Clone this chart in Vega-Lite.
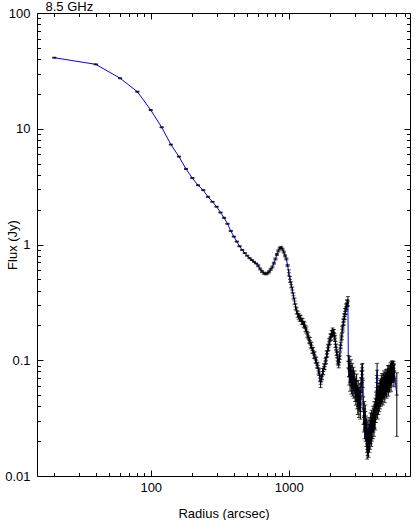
{
  "$schema": "https://vega.github.io/schema/vega-lite/v6.json",
  "width": 373,
  "height": 463,
  "autosize": {"type": "none"},
  "padding": {"left": 37, "top": 13, "right": 5, "bottom": 44},
  "background": "white",
  "config": {
    "view": {"stroke": "black", "strokeWidth": 1},
    "axis": {"grid": false, "domain": false, "tickColor": "black", "tickWidth": 1, "labelColor": "black", "labelFont": "Liberation Sans", "labelFontSize": 13, "titleFont": "Liberation Sans", "titleFontSize": 13, "titleFontWeight": "normal", "titleColor": "black", "labelOverlap": false, "labelFlush": false}
  },
  "data": {"values": [
    {"r":20,"f":41.1,"e":0.41},{"r":40,"f":36,"e":0.36},{"r":60,"f":27.3,"e":0.27},{"r":80,"f":20.9,"e":0.21},{"r":100,"f":14.5,"e":0.15},
    {"r":120,"f":10.3,"e":0.1},{"r":140,"f":7.3,"e":0.07},{"r":160,"f":5.75,"e":0.06},{"r":180,"f":4.5,"e":0.05},{"r":200,"f":3.75,"e":0.04},
    {"r":220,"f":3.25,"e":0.03},{"r":240,"f":2.95,"e":0.03},{"r":260,"f":2.58,"e":0.03},{"r":280,"f":2.34,"e":0.02},{"r":300,"f":2.12,"e":0.02},
    {"r":320,"f":1.89,"e":0.02},{"r":340,"f":1.7,"e":0.02},{"r":360,"f":1.51,"e":0.015},{"r":380,"f":1.31,"e":0.013},{"r":400,"f":1.17,"e":0.012},
    {"r":420,"f":1.06,"e":0.011},{"r":440,"f":0.965,"e":0.01},{"r":460,"f":0.895,"e":0.009},{"r":480,"f":0.843,"e":0.008},{"r":500,"f":0.8,"e":0.008},
    {"r":520,"f":0.762,"e":0.008},{"r":540,"f":0.734,"e":0.007},{"r":560,"f":0.708,"e":0.007},{"r":580,"f":0.685,"e":0.007},{"r":600,"f":0.655,"e":0.013},
    {"r":620,"f":0.615,"e":0.012},{"r":640,"f":0.585,"e":0.012},{"r":660,"f":0.565,"e":0.011},{"r":680,"f":0.557,"e":0.011},{"r":700,"f":0.565,"e":0.011},
    {"r":720,"f":0.582,"e":0.012},{"r":740,"f":0.61,"e":0.012},{"r":760,"f":0.64,"e":0.013},{"r":780,"f":0.69,"e":0.014},{"r":800,"f":0.75,"e":0.015},
    {"r":820,"f":0.82,"e":0.016},{"r":840,"f":0.88,"e":0.018},{"r":860,"f":0.93,"e":0.019},{"r":880,"f":0.945,"e":0.019},{"r":900,"f":0.91,"e":0.018},
    {"r":920,"f":0.86,"e":0.017},{"r":940,"f":0.8,"e":0.016},{"r":960,"f":0.75,"e":0.015},{"r":980,"f":0.66,"e":0.013},
    {"r":1000,"f":0.57,"e":0.034},{"r":1020,"f":0.5,"e":0.03},{"r":1040,"f":0.45,"e":0.027},{"r":1060,"f":0.405,"e":0.024},{"r":1080,"f":0.36,"e":0.022},
    {"r":1100,"f":0.325,"e":0.02},{"r":1120,"f":0.29,"e":0.017},{"r":1140,"f":0.268,"e":0.016},{"r":1160,"f":0.25,"e":0.015},{"r":1180,"f":0.24,"e":0.014},
    {"r":1200,"f":0.232,"e":0.014},{"r":1220,"f":0.23,"e":0.014},{"r":1240,"f":0.218,"e":0.013},{"r":1260,"f":0.216,"e":0.013},{"r":1280,"f":0.205,"e":0.012},
    {"r":1300,"f":0.202,"e":0.012},{"r":1320,"f":0.188,"e":0.011},{"r":1340,"f":0.183,"e":0.011},{"r":1360,"f":0.168,"e":0.01},{"r":1380,"f":0.163,"e":0.01},
    {"r":1400,"f":0.15,"e":0.009},{"r":1420,"f":0.148,"e":0.009},{"r":1440,"f":0.136,"e":0.008},{"r":1460,"f":0.134,"e":0.008},{"r":1480,"f":0.122,"e":0.007},
    {"r":1500,"f":0.122,"e":0.007},{"r":1520,"f":0.111,"e":0.007},{"r":1540,"f":0.111,"e":0.007},{"r":1560,"f":0.101,"e":0.006},{"r":1580,"f":0.1,"e":0.006},
    {"r":1600,"f":0.091,"e":0.005},{"r":1620,"f":0.09,"e":0.005},{"r":1640,"f":0.081,"e":0.005},{"r":1660,"f":0.079,"e":0.005},{"r":1680,"f":0.07,"e":0.004},
    {"r":1700,"f":0.062,"e":0.004},{"r":1720,"f":0.069,"e":0.004},{"r":1740,"f":0.072,"e":0.004},{"r":1760,"f":0.08,"e":0.005},{"r":1780,"f":0.08,"e":0.005},
    {"r":1800,"f":0.088,"e":0.005},{"r":1820,"f":0.088,"e":0.005},{"r":1840,"f":0.098,"e":0.006},{"r":1860,"f":0.1,"e":0.006},{"r":1880,"f":0.113,"e":0.007},
    {"r":1900,"f":0.114,"e":0.007},{"r":1920,"f":0.128,"e":0.008},{"r":1940,"f":0.13,"e":0.008},{"r":1960,"f":0.144,"e":0.009},{"r":1980,"f":0.146,"e":0.009},
    {"r":2000,"f":0.159,"e":0.01},{"r":2020,"f":0.158,"e":0.009},{"r":2040,"f":0.171,"e":0.01},{"r":2060,"f":0.169,"e":0.01},{"r":2080,"f":0.179,"e":0.011},
    {"r":2100,"f":0.174,"e":0.01},{"r":2120,"f":0.174,"e":0.01},{"r":2140,"f":0.16,"e":0.01},{"r":2160,"f":0.155,"e":0.009},{"r":2180,"f":0.137,"e":0.008},
    {"r":2200,"f":0.13,"e":0.008},{"r":2220,"f":0.117,"e":0.007},{"r":2240,"f":0.112,"e":0.007},{"r":2260,"f":0.099,"e":0.006},{"r":2280,"f":0.097,"e":0.006},
    {"r":2300,"f":0.091,"e":0.005},{"r":2320,"f":0.102,"e":0.006},{"r":2340,"f":0.109,"e":0.007},{"r":2360,"f":0.128,"e":0.008},{"r":2380,"f":0.134,"e":0.008},
    {"r":2400,"f":0.156,"e":0.009},{"r":2420,"f":0.161,"e":0.01},{"r":2440,"f":0.185,"e":0.011},{"r":2460,"f":0.19,"e":0.011},{"r":2480,"f":0.213,"e":0.013},
    {"r":2500,"f":0.215,"e":0.013},{"r":2520,"f":0.238,"e":0.014},{"r":2540,"f":0.24,"e":0.014},{"r":2560,"f":0.264,"e":0.016},{"r":2580,"f":0.265,"e":0.016},
    {"r":2600,"f":0.289,"e":0.017},{"r":2620,"f":0.29,"e":0.017},{"r":2640,"f":0.312,"e":0.019},{"r":2660,"f":0.313,"e":0.019},{"r":2680,"f":0.325,"e":0.03},
    {"r":2700,"f":0.098,"e":0.012},
    {"r":2720,"f":0.085,"e":0.013},{"r":2740,"f":0.072,"e":0.011},{"r":2760,"f":0.094,"e":0.014},{"r":2780,"f":0.064,"e":0.01},{"r":2800,"f":0.078,"e":0.012},
    {"r":2820,"f":0.088,"e":0.013},{"r":2840,"f":0.06,"e":0.009},{"r":2860,"f":0.071,"e":0.011},{"r":2880,"f":0.082,"e":0.012},{"r":2900,"f":0.058,"e":0.009},
    {"r":2920,"f":0.067,"e":0.01},{"r":2940,"f":0.076,"e":0.011},{"r":2960,"f":0.055,"e":0.008},{"r":2980,"f":0.063,"e":0.009},{"r":3000,"f":0.07,"e":0.011},
    {"r":3020,"f":0.052,"e":0.008},{"r":3040,"f":0.061,"e":0.009},{"r":3060,"f":0.048,"e":0.007},{"r":3080,"f":0.057,"e":0.009},{"r":3100,"f":0.066,"e":0.01},
    {"r":3120,"f":0.045,"e":0.007},{"r":3140,"f":0.053,"e":0.008},{"r":3160,"f":0.04,"e":0.006},{"r":3180,"f":0.058,"e":0.009},{"r":3200,"f":0.047,"e":0.007},
    {"r":3220,"f":0.038,"e":0.006},{"r":3240,"f":0.05,"e":0.008},{"r":3260,"f":0.043,"e":0.006},{"r":3280,"f":0.055,"e":0.008},{"r":3300,"f":0.036,"e":0.005},
    {"r":3320,"f":0.046,"e":0.007},{"r":3340,"f":0.062,"e":0.009},{"r":3360,"f":0.07,"e":0.011},{"r":3380,"f":0.08,"e":0.012},{"r":3400,"f":0.075,"e":0.011},
    {"r":3420,"f":0.082,"e":0.012},{"r":3440,"f":0.058,"e":0.009},{"r":3460,"f":0.042,"e":0.006},{"r":3480,"f":0.033,"e":0.005},{"r":3500,"f":0.028,"e":0.004},
    {"r":3520,"f":0.038,"e":0.006},{"r":3540,"f":0.025,"e":0.004},{"r":3560,"f":0.031,"e":0.005},{"r":3580,"f":0.036,"e":0.005},{"r":3600,"f":0.024,"e":0.004},
    {"r":3620,"f":0.029,"e":0.004},{"r":3640,"f":0.021,"e":0.003},{"r":3660,"f":0.027,"e":0.004},{"r":3680,"f":0.019,"e":0.003},{"r":3700,"f":0.017,"e":0.003},
    {"r":3720,"f":0.018,"e":0.003},{"r":3740,"f":0.026,"e":0.004},{"r":3760,"f":0.02,"e":0.003},{"r":3780,"f":0.0175,"e":0.003},{"r":3800,"f":0.022,"e":0.003},
    {"r":3820,"f":0.028,"e":0.004},{"r":3840,"f":0.019,"e":0.003},{"r":3860,"f":0.024,"e":0.004},{"r":3880,"f":0.02,"e":0.003},{"r":3900,"f":0.03,"e":0.005},
    {"r":3920,"f":0.022,"e":0.003},{"r":3940,"f":0.026,"e":0.004},{"r":3960,"f":0.021,"e":0.003},{"r":3980,"f":0.032,"e":0.005},{"r":4000,"f":0.024,"e":0.004},
    {"r":4020,"f":0.028,"e":0.004},{"r":4040,"f":0.03,"e":0.005},{"r":4060,"f":0.025,"e":0.004},{"r":4080,"f":0.035,"e":0.005},{"r":4100,"f":0.028,"e":0.004},
    {"r":4120,"f":0.033,"e":0.005},{"r":4140,"f":0.026,"e":0.004},{"r":4160,"f":0.038,"e":0.006},{"r":4180,"f":0.031,"e":0.005},{"r":4200,"f":0.036,"e":0.005},
    {"r":4220,"f":0.029,"e":0.004},{"r":4240,"f":0.041,"e":0.006},{"r":4260,"f":0.034,"e":0.005},{"r":4280,"f":0.046,"e":0.007},{"r":4300,"f":0.038,"e":0.006},
    {"r":4320,"f":0.05,"e":0.008},{"r":4340,"f":0.064,"e":0.01},{"r":4360,"f":0.082,"e":0.012},{"r":4380,"f":0.048,"e":0.007},{"r":4400,"f":0.037,"e":0.006},
    {"r":4420,"f":0.044,"e":0.007},{"r":4440,"f":0.052,"e":0.008},{"r":4460,"f":0.04,"e":0.006},{"r":4480,"f":0.047,"e":0.007},{"r":4500,"f":0.055,"e":0.008},
    {"r":4520,"f":0.042,"e":0.006},{"r":4540,"f":0.049,"e":0.007},{"r":4560,"f":0.058,"e":0.009},{"r":4580,"f":0.045,"e":0.007},{"r":4600,"f":0.051,"e":0.008},
    {"r":4620,"f":0.06,"e":0.009},{"r":4640,"f":0.047,"e":0.007},{"r":4660,"f":0.055,"e":0.008},{"r":4680,"f":0.064,"e":0.01},{"r":4700,"f":0.05,"e":0.008},
    {"r":4720,"f":0.058,"e":0.009},{"r":4740,"f":0.067,"e":0.01},{"r":4760,"f":0.052,"e":0.008},{"r":4780,"f":0.061,"e":0.009},{"r":4800,"f":0.048,"e":0.007},
    {"r":4820,"f":0.057,"e":0.009},{"r":4840,"f":0.066,"e":0.01},{"r":4860,"f":0.054,"e":0.008},{"r":4880,"f":0.062,"e":0.009},{"r":4900,"f":0.07,"e":0.011},
    {"r":4920,"f":0.056,"e":0.008},{"r":4940,"f":0.064,"e":0.01},{"r":4960,"f":0.051,"e":0.008},{"r":4980,"f":0.06,"e":0.009},{"r":5000,"f":0.068,"e":0.01},
    {"r":5020,"f":0.058,"e":0.009},{"r":5040,"f":0.066,"e":0.01},{"r":5060,"f":0.072,"e":0.011},{"r":5080,"f":0.06,"e":0.009},{"r":5100,"f":0.069,"e":0.01},
    {"r":5120,"f":0.055,"e":0.008},{"r":5140,"f":0.064,"e":0.01},{"r":5160,"f":0.073,"e":0.011},{"r":5180,"f":0.062,"e":0.009},{"r":5200,"f":0.07,"e":0.011},
    {"r":5220,"f":0.078,"e":0.012},{"r":5240,"f":0.065,"e":0.01},{"r":5260,"f":0.058,"e":0.009},{"r":5280,"f":0.071,"e":0.011},{"r":5300,"f":0.077,"e":0.012},
    {"r":5320,"f":0.066,"e":0.01},{"r":5340,"f":0.074,"e":0.011},{"r":5360,"f":0.062,"e":0.009},{"r":5380,"f":0.07,"e":0.011},{"r":5400,"f":0.079,"e":0.012},
    {"r":5420,"f":0.068,"e":0.01},{"r":5440,"f":0.075,"e":0.011},{"r":5460,"f":0.083,"e":0.012},{"r":5480,"f":0.071,"e":0.011},{"r":5500,"f":0.064,"e":0.01},
    {"r":5520,"f":0.077,"e":0.012},{"r":5540,"f":0.084,"e":0.013},{"r":5560,"f":0.072,"e":0.011},{"r":5580,"f":0.08,"e":0.012},{"r":5600,"f":0.086,"e":0.013},
    {"r":5620,"f":0.075,"e":0.011},{"r":5640,"f":0.082,"e":0.012},{"r":5660,"f":0.078,"e":0.012},{"r":5680,"f":0.084,"e":0.013},{"r":5700,"f":0.08,"e":0.012},
    {"r":5720,"f":0.076,"e":0.011},{"r":5740,"f":0.085,"e":0.013},{"r":5760,"f":0.079,"e":0.012},{"r":5780,"f":0.07,"e":0.011},{"r":5800,"f":0.081,"e":0.012},
    {"r":6060,"f":0.05,"e":0.028}
  ]},
  "layer": [
    {
      "mark": {"type": "line", "color": "#0000ff", "strokeWidth": 1},
      "encoding": {
        "x": {"field": "r", "type": "quantitative", "scale": {"type": "log", "domain": [15, 7550], "nice": false, "zero": false},
          "axis": {"orient": "bottom", "title": "Radius (arcsec)", "values": [20,30,40,50,60,70,80,90,100,200,300,400,500,600,700,800,900,1000,2000,3000,4000,5000,6000,7000],
            "tickSize": {"condition": {"test": "indexof([0.01,0.1,1,10,100,1000], datum.value) >= 0", "value": -6}, "value": -3.5},
            "labelExpr": "indexof([0.01,0.1,1,10,100,1000], datum.value) >= 0 ? format(datum.value, '~g') : ''",
            "labelPadding": 11, "titlePadding": 11}},
        "y": {"field": "f", "type": "quantitative", "scale": {"type": "log", "domain": [0.01, 100], "nice": false, "zero": false},
          "axis": {"orient": "left", "title": "Flux (Jy)", "values": [0.01,0.02,0.03,0.04,0.05,0.06,0.07,0.08,0.09,0.1,0.2,0.3,0.4,0.5,0.6,0.7,0.8,0.9,1,2,3,4,5,6,7,8,9,10,20,30,40,50,60,70,80,90,100],
            "tickSize": {"condition": {"test": "indexof([0.01,0.1,1,10,100,1000], datum.value) >= 0", "value": -6}, "value": -3.5},
            "labelExpr": "indexof([0.01,0.1,1,10,100,1000], datum.value) >= 0 ? format(datum.value, '~g') : ''",
            "labelPadding": 13, "titleX": -25, "titleBaseline": "middle"}}
      }
    },
    {
      "mark": {"type": "errorbar", "color": "black", "thickness": 1, "ticks": {"size": 4, "color": "black"}},
      "encoding": {
        "x": {"field": "r", "type": "quantitative", "axis": null},
        "y": {"field": "f", "type": "quantitative", "axis": null},
        "yError": {"field": "e"}
      }
    },
    {
      "mark": {"type": "tick", "orient": "horizontal", "size": 4, "thickness": 1, "color": "black"},
      "encoding": {
        "x": {"field": "r", "type": "quantitative", "axis": null},
        "y": {"field": "f", "type": "quantitative", "axis": null}
      }
    },
    {
      "mark": {"type": "point", "opacity": 0},
      "encoding": {
        "x": {"field": "r", "type": "quantitative",
          "axis": {"orient": "top", "title": "8.5 GHz", "titleX": 8, "titleY": -3, "titleAlign": "left", "titleBaseline": "alphabetic", "titleAngle": 0, "titleFontSize": 13, "labels": false, "values": [20,30,40,50,60,70,80,90,100,200,300,400,500,600,700,800,900,1000,2000,3000,4000,5000,6000,7000],
            "tickSize": {"condition": {"test": "indexof([0.01,0.1,1,10,100,1000], datum.value) >= 0", "value": -6}, "value": -3.5}}},
        "y": {"field": "f", "type": "quantitative",
          "axis": {"orient": "right", "title": null, "labels": false, "values": [0.01,0.02,0.03,0.04,0.05,0.06,0.07,0.08,0.09,0.1,0.2,0.3,0.4,0.5,0.6,0.7,0.8,0.9,1,2,3,4,5,6,7,8,9,10,20,30,40,50,60,70,80,90,100],
            "tickSize": {"condition": {"test": "indexof([0.01,0.1,1,10,100,1000], datum.value) >= 0", "value": -6}, "value": -3.5}}}
      }
    }
  ],
  "resolve": {"axis": {"x": "independent", "y": "independent"}}
}
